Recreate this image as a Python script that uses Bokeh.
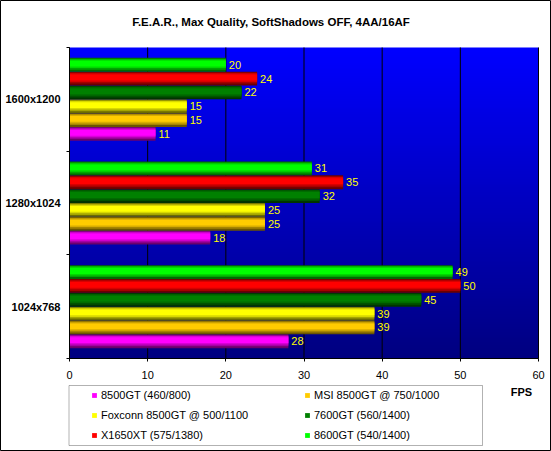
import numpy as np
from bokeh.plotting import figure
from bokeh.models import (FixedTicker, Label, Legend, LegendItem, Range1d, BoxAnnotation)
from bokeh.core.properties import value
from bokeh.embed import file_html
from bokeh.resources import INLINE

# ---------------- data ----------------
chart_title = "F.E.A.R., Max Quality, SoftShadows OFF, 4AA/16AF"
resolutions = ["1024x768", "1280x1024", "1600x1200"]          # bottom -> top
series_names = ["8500GT (460/800)", "MSI 8500GT @ 750/1000",
                "Foxconn 8500GT @ 500/1100", "7600GT (560/1400)",
                "X1650XT (575/1380)", "8600GT (540/1400)"]
fps_8500gt = [28, 18, 11]
fps_msi = [39, 25, 15]
fps_foxconn = [39, 25, 15]
fps_7600gt = [45, 32, 22]
fps_x1650xt = [50, 35, 24]
fps_8600gt = [49, 31, 20]
series_values = [fps_8500gt, fps_msi, fps_foxconn, fps_7600gt, fps_x1650xt, fps_8600gt]
series_colors = ["#FF00FF", "#FFCC00", "#FFFF00", "#008000", "#FF0000", "#00FF00"]
x_ticks = [0, 10, 20, 30, 40, 50, 60]
x_unit = "FPS"

FONT = "Liberation Sans"
W, H = 551, 451
# plot area in figure pixels
FL, FR, FT, FB = 69, 538, 47, 358
XMAX = 60
NCAT = len(resolutions)
sx = (FR - FL) / XMAX
sy = (FB - FT) / NCAT

p = figure(width=W, height=H, output_backend="svg", toolbar_location=None,
           x_range=Range1d(-FL / sx, XMAX + (W - FR) / sx),
           y_range=Range1d(-(H - FB) / sy, NCAT + FT / sy),
           min_border=0)
p.outline_line_color = "black"
p.outline_line_width = 1
p.background_fill_color = "white"
p.border_fill_color = "white"
p.xgrid.visible = False
p.ygrid.visible = False

# gradient background of the plot area
n = 120
img = np.empty((n, 2), dtype=np.uint32)
view = img.view(dtype=np.uint8).reshape((n, 2, 4))
for i in range(n):
    t = i / (n - 1)
    view[i, :, 0] = 0
    view[i, :, 1] = 0
    view[i, :, 2] = int(round(128 + 127 * t))
    view[i, :, 3] = 255
p.image_rgba(image=[img], x=0, y=0, dw=XMAX, dh=NCAT, level="image")

# vertical grid lines
p.segment(x0=x_ticks, y0=0, x1=x_ticks, y1=NCAT, line_color="black", line_width=1)

# bars
def shade(hex_color, f):
    r, g, b = int(hex_color[1:3], 16), int(hex_color[3:5], 16), int(hex_color[5:7], 16)
    return "#%02x%02x%02x" % (int(r * f), int(g * f), int(b * f))

n_series = len(series_names)
group_h = 0.8
bar_h = group_h / n_series
layers = [(1.0, 0.0, 0.42), (0.80, 0.04, 0.65), (0.62, 0.07, 0.85), (0.42, 0.08, 1.0)]
legend_renderers = []
for i, (vals, col) in enumerate(zip(series_values, series_colors)):
    centers = [k + 0.5 - group_h / 2 + bar_h * (i + 0.5) for k in range(NCAT)]
    top_r = None
    for hf, shift, f in layers:
        ys = [c + shift * bar_h for c in centers]
        r = p.hbar(y=ys, left=0, right=vals, height=bar_h * hf,
                   fill_color=shade(col, f), line_color=None)
        top_r = r
    legend_renderers.append(top_r)
    p.text(x=vals, y=centers, text=[str(v) for v in vals], x_offset=3,
           text_baseline="middle", text_align="left", text_color="#FFFF00",
           text_font=value(FONT), text_font_size="11px")

# axes (drawn at the data origin)
xa = p.xaxis[0]
xa.fixed_location = 0
xa.bounds = (0, XMAX)
xa.ticker = FixedTicker(ticks=x_ticks)
xa.minor_tick_line_color = None
xa.major_tick_in = 0
xa.major_tick_out = 3
xa.major_label_standoff = 9
xa.major_label_text_font = FONT
xa.major_label_text_font_size = "11px"
xa.major_label_text_color = "black"
xa.axis_line_color = "black"

ya = p.yaxis[0]
ya.fixed_location = 0
ya.bounds = (0, NCAT)
ya.ticker = FixedTicker(ticks=[k + 0.5 for k in range(NCAT)],
                        minor_ticks=list(range(NCAT + 1)))
ya.major_label_overrides = {k + 0.5: resolutions[k] for k in range(NCAT)}
ya.major_tick_in = 0
ya.major_tick_out = 0
ya.minor_tick_in = 0
ya.minor_tick_out = 3
ya.minor_tick_line_color = "black"
ya.major_label_standoff = 6
ya.major_label_text_font = FONT
ya.major_label_text_font_size = "11px"
ya.major_label_text_font_style = "bold"
ya.major_label_text_color = "black"
ya.axis_line_color = "black"

# title and unit
p.add_layout(Label(x=(270.5 - FL) / sx, y=NCAT + (FT - 21) / sy, text=chart_title,
                   text_align="center", text_baseline="middle", text_font=FONT,
                   text_font_size="11.5px", text_font_style="bold", text_color="black"))
p.add_layout(Label(x=(521 - FL) / sx, y=-(391 - FB) / sy, text=x_unit,
                   text_align="center", text_baseline="middle", text_font=FONT,
                   text_font_size="11px", text_font_style="bold", text_color="black"))

# legend (column-major order)
order = [0, 2, 4, 1, 3, 5]
items = [LegendItem(label=series_names[k], renderers=[legend_renderers[k]]) for k in order]
legend = Legend(items=items, location=(91, 10), orientation="vertical", ncols=2,
                glyph_width=6, glyph_height=6, label_height=13, label_width=196,
                label_standoff=4, spacing=7, padding=4, border_line_color=None,
                background_fill_alpha=0, label_text_font=FONT,
                label_text_font_size="11px", label_text_color="black")
p.add_layout(legend)
p.add_layout(BoxAnnotation(left=(68.5 - FL) / sx, right=(482 - FL) / sx,
                           bottom=-(445 - FB) / sy, top=-(385 - FB) / sy,
                           fill_alpha=0, line_color="black", line_width=1))

open("out.html", "w").write(file_html(p, INLINE))
